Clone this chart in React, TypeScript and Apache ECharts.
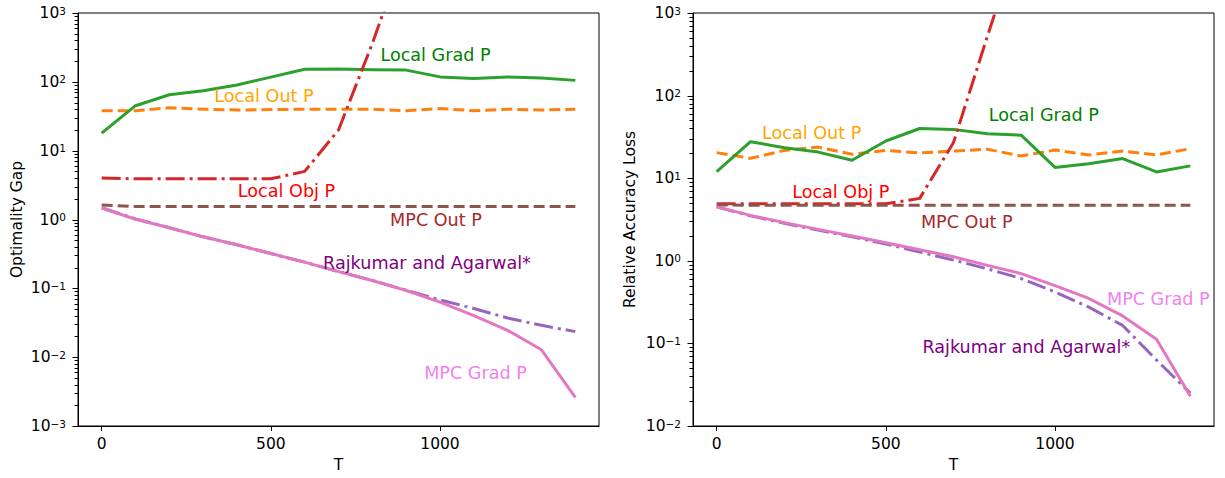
import React, { useEffect, useRef } from 'react';
import * as echarts from 'echarts';

const T = [0, 100, 200, 300, 400, 500, 600, 700, 800, 900, 1000, 1100, 1200, 1300, 1400];

// Left panel: Optimality Gap
const gapLocalOut = [38, 38, 42, 40, 39, 39.5, 40, 40, 40, 38, 41, 38, 40, 39, 40];
const gapLocalGrad = [18, 45, 65, 74, 90, 117, 152, 153, 150, 148, 118, 112, 118, 114, 105];
const gapLocalObj = [4.0, 3.9, 3.9, 3.9, 3.9, 3.9, 5.0, 20, 360, 8700, null, null, null, null, null];
const gapRajkumar = [1.48, 1.02, 0.76, 0.56, 0.43, 0.32, 0.24, 0.175, 0.13, 0.094, 0.068, 0.051, 0.037, 0.029, 0.0235];
const gapMpcOut = [1.62, 1.55, 1.55, 1.55, 1.55, 1.55, 1.55, 1.55, 1.55, 1.55, 1.55, 1.55, 1.55, 1.55, 1.55];
const gapMpcGrad = [1.47, 1.01, 0.76, 0.56, 0.43, 0.32, 0.24, 0.175, 0.13, 0.093, 0.063, 0.04, 0.0245, 0.0128, 0.0026];

// Right panel: Relative Accuracy Loss
const accLocalOut = [20.4, 17.4, 21.7, 23.8, 19.5, 21.7, 20.2, 21.3, 22.4, 18.6, 21.9, 19.1, 21.3, 19.1, 22.8];
const accLocalGrad = [12.0, 27.7, 23.4, 20.7, 16.5, 28.2, 40, 39, 34.6, 33.2, 13.5, 15.0, 17.3, 11.9, 14.1];
const accLocalObj = [4.9, 4.9, 4.9, 4.9, 4.9, 4.9, 5.7, 27, 520, 9300, null, null, null, null, null];
const accRajkumar = [4.5, 3.5, 2.85, 2.35, 1.95, 1.6, 1.28, 1.02, 0.8, 0.61, 0.42, 0.275, 0.165, 0.063, 0.025];
const accMpcOut = [4.75, 4.7, 4.7, 4.7, 4.7, 4.7, 4.7, 4.7, 4.7, 4.7, 4.7, 4.7, 4.7, 4.7, 4.7];
const accMpcGrad = [4.5, 3.55, 2.9, 2.4, 2.0, 1.65, 1.36, 1.12, 0.88, 0.7, 0.5, 0.35, 0.215, 0.112, 0.023];

const X_TICKS = [0, 500, 1000];
const X_MIN = -70;
const X_MAX = 1470;
const LEFT_EXP = [-3, 3];
const RIGHT_EXP = [-2, 3];

const FONT = 'DejaVu Sans';
const C = {
  orange: '#ff7f0e',
  green: '#2ca02c',
  red: '#d62728',
  purple: '#9467bd',
  brown: '#8c564b',
  pink: '#e377c2',
};
const DASHED = [11, 5];
const DASHDOT = [19, 5, 3, 5];

function pairs(vals: (number | null)[]) {
  return T.map((t, i) => [t, vals[i]]);
}

function supLabel(v: number) {
  const e = Math.round(Math.log10(v));
  const s = e < 0 ? '\u2212' + -e : String(e);
  return `{base|10}{sup|${s}}`;
}

const rich = {
  base: { fontFamily: FONT, fontSize: 15.5, fill: '#000', lineHeight: 16 },
  sup: { fontFamily: FONT, fontSize: 10.5, fill: '#000', lineHeight: 9, verticalAlign: 'top' },
};

function majorValues(minExp: number, maxExp: number) {
  const out: number[][] = [];
  for (let e = minExp; e <= maxExp; e++) out.push([X_MIN, Math.pow(10, e)]);
  return out;
}

function minorValues(minExp: number, maxExp: number) {
  const out: number[][] = [];
  for (let e = minExp; e < maxExp; e++) {
    for (let k = 2; k <= 9; k++) out.push([X_MIN, k * Math.pow(10, e)]);
  }
  return out;
}

function lineSeries(name: string, vals: (number | null)[], color: string, type: any, idx: number, z: number) {
  return {
    name,
    type: 'line',
    xAxisIndex: idx,
    yAxisIndex: idx,
    data: pairs(vals),
    showSymbol: false,
    symbol: 'none',
    connectNulls: false,
    z,
    lineStyle: { color, width: 3, type, cap: 'butt', join: 'round' },
  };
}

function minorSeries(idx: number, exps: number[]) {
  return {
    type: 'custom',
    xAxisIndex: idx,
    yAxisIndex: idx,
    data: minorValues(exps[0], exps[1]),
    silent: true,
    clip: false,
    z: 20,
    renderItem: (params: any, api: any) => {
      const p = api.coord([api.value(0), api.value(1)]);
      const y = Math.round(p[1]) + 0.5;
      return {
        type: 'line',
        shape: { x1: p[0] - 3.5, y1: y, x2: p[0], y2: y },
        style: { stroke: '#000', lineWidth: 1 },
      };
    },
  };
}

function majorSeries(idx: number, exps: number[]) {
  return {
    type: 'custom',
    xAxisIndex: idx,
    yAxisIndex: idx,
    data: majorValues(exps[0], exps[1]),
    silent: true,
    clip: false,
    z: 20,
    renderItem: (params: any, api: any) => {
      const v = api.value(1);
      const p = api.coord([api.value(0), v]);
      const y = Math.round(p[1]) + 0.5;
      return {
        type: 'group',
        children: [
          { type: 'line', shape: { x1: p[0] - 5.5, y1: y, x2: p[0], y2: y }, style: { stroke: '#000', lineWidth: 1 } },
          {
            type: 'text',
            x: p[0] - 12,
            y: p[1],
            style: {
              text: supLabel(v),
              rich,
              align: 'right',
              verticalAlign: 'middle',
              fontFamily: FONT,
              fontSize: 15.5,
              fill: '#000',
            },
          },
        ],
      };
    },
  };
}

function xAxis(idx: number) {
  return {
    type: 'value',
    gridIndex: idx,
    min: X_MIN,
    max: X_MAX,
    name: 'T',
    nameLocation: 'middle',
    nameGap: 31,
    nameTextStyle: { fontFamily: FONT, fontSize: 15.5, color: '#000' },
    axisLine: { show: true, onZero: false, lineStyle: { color: '#000', width: 1 } },
    axisTick: { show: true, length: 5, lineStyle: { color: '#000', width: 1 }, customValues: X_TICKS },
    axisLabel: {
      fontFamily: FONT,
      fontSize: 15.5,
      color: '#000',
      margin: 10,
      customValues: X_TICKS,
      formatter: (v: number) => String(v),
    },
    splitLine: { show: false },
  };
}

function yAxis(idx: number, min: number, max: number, name: string, gap: number) {
  return {
    type: 'log',
    logBase: 10,
    gridIndex: idx,
    min,
    max,
    name,
    nameLocation: 'middle',
    nameGap: gap,
    nameRotate: 90,
    nameTextStyle: { fontFamily: FONT, fontSize: 15.5, color: '#000' },
    axisLine: { show: true, onZero: false, lineStyle: { color: '#000', width: 1 } },
    axisTick: { show: false },
    axisLabel: { show: false },
    splitLine: { show: false },
    minorTick: { show: false },
  };
}

const ANNOT_LEFT = [
  { text: 'Local Grad P', color: '#008000', x: 435.5, y: 55 },
  { text: 'Local Out P', color: '#FFA500', x: 264, y: 96 },
  { text: 'Local Obj P', color: '#FF0000', x: 286.5, y: 190.7 },
  { text: 'MPC Out P', color: '#A52A2A', x: 436, y: 220 },
  { text: 'Rajkumar and Agarwal*', color: '#800080', x: 427, y: 262.7 },
  { text: 'MPC Grad P', color: '#EE82EE', x: 475.5, y: 372.7 },
];
const ANNOT_RIGHT = [
  { text: 'Local Grad P', color: '#008000', x: 1043.8, y: 115 },
  { text: 'Local Out P', color: '#FFA500', x: 811.7, y: 133.3 },
  { text: 'Local Obj P', color: '#FF0000', x: 840.8, y: 191.7 },
  { text: 'MPC Out P', color: '#A52A2A', x: 966.8, y: 221.7 },
  { text: 'Rajkumar and Agarwal*', color: '#800080', x: 1026.3, y: 346.7 },
  { text: 'MPC Grad P', color: '#EE82EE', x: 1158.3, y: 299.3 },
];

export default function App() {
  const ref = useRef<HTMLDivElement>(null);
  useEffect(() => {
    if (!ref.current) return;
    const chart = echarts.init(ref.current, undefined, { renderer: 'svg' });
    const graphic = [...ANNOT_LEFT, ...ANNOT_RIGHT].map((a) => ({
      type: 'text',
      x: a.x,
      y: a.y,
      z: 100,
      style: {
        text: a.text,
        fill: a.color,
        fontFamily: FONT,
        fontSize: 17.6,
        textAlign: 'center',
        textVerticalAlign: 'middle',
      },
    }));
    chart.setOption({
      animation: false,
      backgroundColor: '#fff',
      grid: [
        { left: 78, right: 626, top: 13, bottom: 50, show: true, borderColor: '#000', borderWidth: 1, backgroundColor: 'transparent' },
        { left: 693, right: 11, top: 13, bottom: 50, show: true, borderColor: '#000', borderWidth: 1, backgroundColor: 'transparent' },
      ],
      xAxis: [xAxis(0), xAxis(1)],
      yAxis: [
        yAxis(0, 0.001, 1000, 'Optimality Gap', 53),
        yAxis(1, 0.01, 1000, 'Relative Accuracy Loss', 55),
      ],
      series: [
        lineSeries('Local Out P', gapLocalOut, C.orange, DASHED, 0, 2),
        lineSeries('Local Grad P', gapLocalGrad, C.green, 'solid', 0, 3),
        lineSeries('Local Obj P', gapLocalObj, C.red, DASHDOT, 0, 4),
        lineSeries('Rajkumar and Agarwal*', gapRajkumar, C.purple, DASHDOT, 0, 5),
        lineSeries('MPC Out P', gapMpcOut, C.brown, DASHED, 0, 6),
        lineSeries('MPC Grad P', gapMpcGrad, C.pink, 'solid', 0, 7),
        lineSeries('Local Out P', accLocalOut, C.orange, DASHED, 1, 2),
        lineSeries('Local Grad P', accLocalGrad, C.green, 'solid', 1, 3),
        lineSeries('Local Obj P', accLocalObj, C.red, DASHDOT, 1, 4),
        lineSeries('Rajkumar and Agarwal*', accRajkumar, C.purple, DASHDOT, 1, 5),
        lineSeries('MPC Out P', accMpcOut, C.brown, DASHED, 1, 6),
        lineSeries('MPC Grad P', accMpcGrad, C.pink, 'solid', 1, 7),
        minorSeries(0, LEFT_EXP),
        minorSeries(1, RIGHT_EXP),
        majorSeries(0, LEFT_EXP),
        majorSeries(1, RIGHT_EXP),
      ],
      graphic,
    });
    return () => chart.dispose();
  }, []);
  return <div ref={ref} style={{ position: 'fixed', left: 0, top: 0, width: 1225, height: 478 }} />;
}
